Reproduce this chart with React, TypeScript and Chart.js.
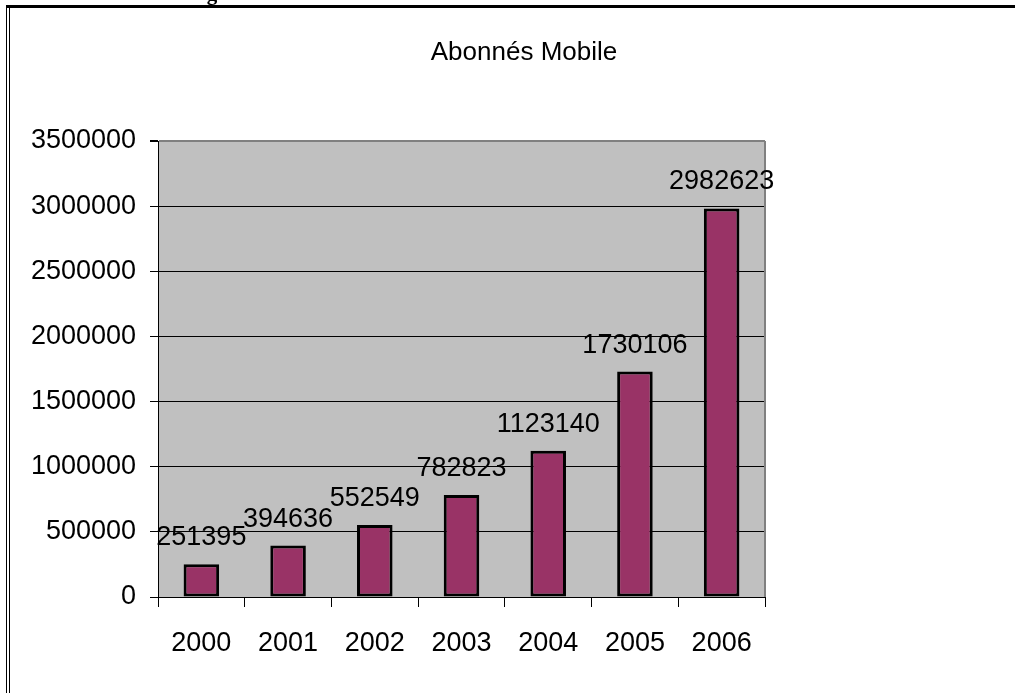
import React, { useEffect, useRef } from "react";
import { Chart, registerables } from "chart.js";

Chart.register(...registerables);

const years = ["2000", "2001", "2002", "2003", "2004", "2005", "2006"];
const subscribers = [251395, 394636, 552549, 782823, 1123140, 1730106, 2982623];
const chartTitle = "Abonnés Mobile";
const caption = "Figure 3 : Evolution du nombre des abonnés mobiles de 2000 à 2006";
const yMin = 0;
const yMax = 3500000;
const yStep = 500000;

const FONT = "'Liberation Sans', Arial, sans-serif";

const decorPlugin = {
  id: "decor",
  beforeDraw(chart: any) {
    const { ctx, chartArea } = chart;
    ctx.save();
    ctx.fillStyle = "#ffffff";
    ctx.fillRect(0, 0, chart.width, chart.height);
    // caption (clipped at top)
    ctx.fillStyle = "#000";
    ctx.font = "bold 21px 'Liberation Serif', 'Times New Roman', serif";
    ctx.textAlign = "left";
    ctx.textBaseline = "alphabetic";
    ctx.fillText(caption, 188, 0);
    // frame
    ctx.fillRect(6, 5, 1015 - 6, 3);
    ctx.fillRect(6, 5, 1, 693);
    ctx.fillRect(9, 7, 1, 693);
    // title
    ctx.font = `26px ${FONT}`;
    ctx.textAlign = "center";
    ctx.textBaseline = "middle";
    ctx.fillText(chartTitle, 524, 53);
    // plot background
    ctx.fillStyle = "#c0c0c0";
    ctx.fillRect(chartArea.left, chartArea.top, chartArea.right - chartArea.left, chartArea.bottom - chartArea.top);
    ctx.restore();
  },
  afterDatasetsDraw(chart: any) {
    const { ctx, chartArea } = chart;
    ctx.save();
    ctx.strokeStyle = "#808080";
    ctx.lineWidth = 2;
    ctx.beginPath();
    ctx.moveTo(chartArea.right, chartArea.top);
    ctx.lineTo(chartArea.right, chartArea.bottom);
    ctx.stroke();
    const meta = chart.getDatasetMeta(0);
    ctx.fillStyle = "#000";
    ctx.font = `27px ${FONT}`;
    ctx.textAlign = "center";
    ctx.textBaseline = "alphabetic";
    meta.data.forEach((bar: any, i: number) => {
      ctx.fillText(String(subscribers[i]), bar.x, bar.y - 19);
    });
    ctx.restore();
  },
};

export default function App() {
  const ref = useRef<HTMLCanvasElement>(null);
  useEffect(() => {
    const chart = new Chart(ref.current as HTMLCanvasElement, {
      type: "bar",
      data: {
        labels: years,
        datasets: [
          {
            label: chartTitle,
            data: subscribers,
            backgroundColor: "#993366",
            borderColor: "#000000",
            borderWidth: 3,
            borderSkipped: false,
            barPercentage: 0.41,
            categoryPercentage: 1,
          },
        ],
      },
      options: {
        responsive: false,
        animation: false,
        devicePixelRatio: 1,
        layout: { padding: { left: 0, right: 250, top: 141, bottom: 0 } },
        plugins: { legend: { display: false }, tooltip: { enabled: false }, title: { display: false } },
        scales: {
          y: {
            min: yMin,
            max: yMax,
            ticks: {
              stepSize: yStep,
              color: "#000",
              font: { family: FONT, size: 27 },
              padding: 14,
              callback: (v: any) => String(v),
            },
            grid: {
              color: (c: any) => (c.tick && c.tick.value === yMax ? "#808080" : "#000000"),
              lineWidth: (c: any) => (c.tick && c.tick.value === yMax ? 2 : 1),
              tickColor: "#000",
              tickLength: 8,
            },
            border: { display: true, color: "#000", width: 1 },
            afterFit: (s: any) => {
              s.width = 158;
            },
          },
          x: {
            offset: true,
            ticks: { color: "#000", font: { family: FONT, size: 27 }, padding: 20 },
            grid: { drawOnChartArea: false, tickColor: "#000", tickLength: 10, offset: true },
            border: { display: true, color: "#000", width: 1 },
            afterFit: (s: any) => {
              s.height = 96;
            },
          },
        },
      },
      plugins: [decorPlugin],
    });
    return () => chart.destroy();
  }, []);
  return (
    <div style={{ position: "fixed", left: 0, top: 0, width: 1015, height: 693 }}>
      <canvas ref={ref} width={1015} height={693} style={{ display: "block" }} />
    </div>
  );
}
